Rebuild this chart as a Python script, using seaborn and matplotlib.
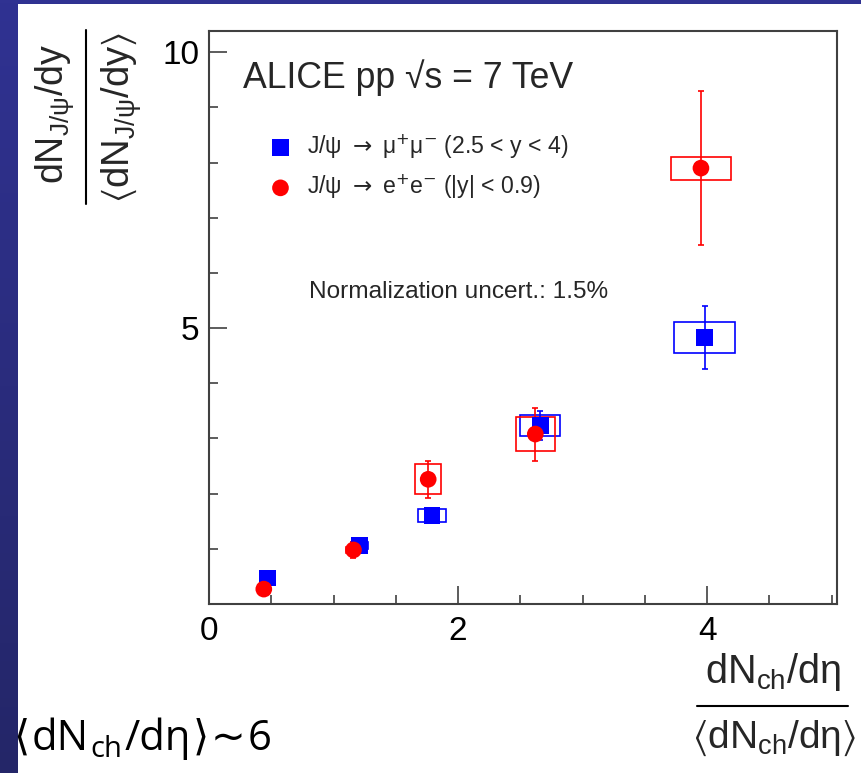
import numpy as np
import pandas as pd
import matplotlib
matplotlib.use("Agg")
import matplotlib.pyplot as plt
import seaborn as sns
from matplotlib.patches import Rectangle
from matplotlib.lines import Line2D
from matplotlib.ticker import MultipleLocator, FixedLocator

# J/psi -> mu+ mu- (2.5 < y < 4)
mult_mumu = [0.47, 1.21, 1.79, 2.66, 3.98]
yield_mumu = [0.47, 1.06, 1.60, 3.24, 4.83]
stat_mumu = [0.03, 0.05, 0.06, 0.26, 0.57]
sysy_mumu = [0.04, 0.07, 0.12, 0.19, 0.285]
sysx_mumu = [0.03, 0.07, 0.11, 0.16, 0.245]

# J/psi -> e+ e- (|y| < 0.9)
mult_ee = [0.44, 1.16, 1.76, 2.62, 3.95]
yield_ee = [0.27, 0.98, 2.26, 3.08, 7.90]
stat_ee = [0.03, 0.15, 0.33, 0.48, 1.39]
sysy_ee = [0.03, 0.06, 0.275, 0.31, 0.21]
sysx_ee = [0.03, 0.06, 0.105, 0.155, 0.24]

label_mumu = r"J/ψ $\rightarrow$ μ$^{+}$μ$^{-}$ (2.5 < y < 4)"
label_ee = r"J/ψ $\rightarrow$ e$^{+}$e$^{-}$ (|y| < 0.9)"

x_ticks = [0, 2, 4]
y_ticks = [5, 10]

sns.set_style("ticks")
plt.rcParams["font.family"] = ["Liberation Sans", "DejaVu Sans"]
plt.rcParams["mathtext.fontset"] = "custom"
plt.rcParams["mathtext.rm"] = "Liberation Sans"
plt.rcParams["mathtext.it"] = "Liberation Sans:italic"
plt.rcParams["mathtext.bf"] = "Liberation Sans:bold"
plt.rcParams["mathtext.fallback"] = "stixsans"

SANS = "Liberation Sans"

W, H, DPI = 861, 773, 100
fig = plt.figure(figsize=(W / DPI, H / DPI), dpi=DPI)


def fx(px):
    return px / W


def fy(py):
    return 1 - py / H


# slide background: blue gradient with a white panel
bg = fig.add_axes([0, 0, 1, 1], zorder=-10)
grad = np.linspace(0, 1, 256)[:, None]
top = np.array([48, 50, 146]) / 255
bot = np.array([36, 38, 104]) / 255
img = top[None, None, :] * (1 - grad[:, :, None]) + bot[None, None, :] * grad[:, :, None]
bg.imshow(img, aspect="auto", extent=[0, 1, 0, 1])
bg.add_patch(Rectangle((fx(18), 0), 1 - fx(18), fy(4), color="white", lw=0))
bg.set_xlim(0, 1)
bg.set_ylim(0, 1)
bg.axis("off")

ax = fig.add_axes([fx(209), fy(604), fx(836.7) - fx(209), fy(30.7) - fy(604)])
ax.set_facecolor("white")

BLUE = "#0000ff"
RED = "#ff0000"

series = [
    (mult_mumu, yield_mumu, stat_mumu, sysx_mumu, sysy_mumu, BLUE, "s", label_mumu, 4),
    (mult_ee, yield_ee, stat_ee, sysx_ee, sysy_ee, RED, "o", label_ee, 5),
]

for xs, ys, st, sx, sy, col, mk, lab, zo in series:
    for x, y, ex, ey in zip(xs, ys, sx, sy):
        ax.add_patch(Rectangle((x - ex, y - ey), 2 * ex, 2 * ey, fill=False,
                               edgecolor=col, lw=1.2, zorder=2))
    ax.errorbar(xs, ys, yerr=st, fmt="none", ecolor=col, elinewidth=1.2,
                capsize=2.4, capthick=1.2, zorder=3)
    df = pd.DataFrame({"mult": xs, "yield": ys})
    sns.scatterplot(data=df, x="mult", y="yield", marker=mk, s=144, color=col,
                    edgecolor="none", linewidth=0, ax=ax, zorder=zo, label=lab,
                    legend=False)

ax.set_xlim(0, 5.04)
ax.set_ylim(0, 10.39)
ax.set_xlabel("")
ax.set_ylabel("")
ax.xaxis.set_major_locator(FixedLocator(x_ticks))
ax.xaxis.set_minor_locator(MultipleLocator(0.5))
ax.yaxis.set_major_locator(FixedLocator(y_ticks))
ax.yaxis.set_minor_locator(MultipleLocator(1))
ax.set_xticklabels([str(t) for t in x_ticks])
ax.set_yticklabels([str(t) for t in y_ticks])
ax.tick_params(which="both", direction="in", top=False, right=False,
               color="#303030", width=1.1, labelsize=24, labelcolor="black")
ax.tick_params(which="major", length=13)
ax.tick_params(which="minor", length=6.7)
ax.tick_params(axis="x", pad=9)
ax.tick_params(axis="y", pad=7)
for sp in ax.spines.values():
    sp.set_visible(True)
    sp.set_color("#404040")
    sp.set_linewidth(1.5)

handles, labels = ax.get_legend_handles_labels()
leg = ax.legend(handles, labels, loc="upper left", bbox_to_anchor=(0.0955, 0.823),
                frameon=False, prop={"family": SANS, "size": 16.6},
                handlelength=1.0, handletextpad=0.64,
                labelspacing=0.5, borderpad=0, borderaxespad=0, scatterpoints=1)
for t in leg.get_texts():
    t.set_math_fontfamily("dejavusans")

ax.text(0.054, 0.900, "ALICE pp √s = 7 TeV", transform=ax.transAxes,
        fontsize=25.7, va="baseline", ha="left", family=SANS)
ax.text(0.159, 0.534, "Normalization uncert.: 1.5%", transform=ax.transAxes,
        fontsize=17.6, va="baseline", ha="left", family=SANS)

# y-axis title as a stacked fraction
fig.text(fx(55), fy(114), r"dN$_{\mathregular{J/ψ}}$/dy", rotation=90,
         ha="center", va="center", fontsize=27, family=SANS)
fig.text(fx(121.5), fy(117.5), r"$\langle$dN$_{\mathregular{J/ψ}}$/dy$\rangle$",
         rotation=90, ha="center", va="center", fontsize=27.5, family=SANS)
fig.add_artist(Line2D([fx(86), fx(86)], [fy(30), fy(204)], color="black", lw=1.5))

# x-axis title as a stacked fraction
fig.text(fx(772.5), fy(672), r"dN$_{\mathregular{ch}}$/dη", ha="center",
         va="center", fontsize=28.5, family=SANS)
fig.text(fx(774), fy(738), r"$\langle$dN$_{\mathregular{ch}}$/dη$\rangle$",
         ha="center", va="center", fontsize=28, family=SANS)
fig.add_artist(Line2D([fx(697), fx(848)], [fy(706), fy(706)], color="black", lw=1.5))

# slide note in the lower left corner, drawn run by run for the subscript
renderer = fig.canvas.get_renderer()
OPEN = ["Open Sans", "DejaVu Sans"]
runs = [("⟨", 30, 0, OPEN), ("dN", 30, 0, OPEN), ("ch", 21, -7, OPEN),
        ("/dη", 30, 0, OPEN), ("⟩", 30, 0, OPEN), ("~", 30, 0, ["DejaVu Sans"]),
        ("6", 30, 0, OPEN)]
xpos = 13
for txt, size, dy, fam in runs:
    t = fig.text(fx(xpos), fy(750 - dy), txt, fontsize=size, ha="left",
                 va="baseline", family=fam, color="black")
    xpos += t.get_window_extent(renderer).width + 2

fig.savefig("out.png", dpi=DPI)
